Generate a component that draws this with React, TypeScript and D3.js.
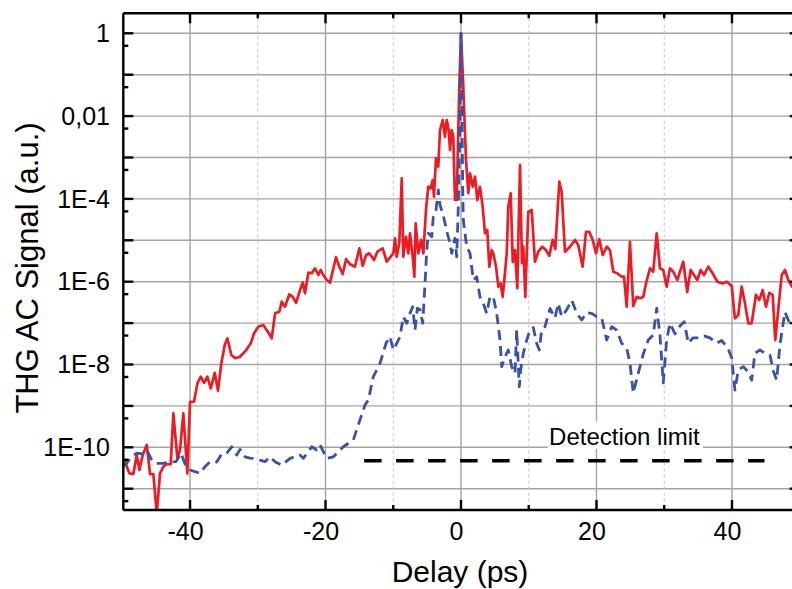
import React from 'react';
import * as d3 from 'd3';

const W = 792;
const H = 589;

// Axis definitions
const xDomain: [number, number] = [-50, 50];
const yDomain: [number, number] = [Math.pow(10, -11.5), Math.pow(10, 0.5)];
const xMajorTicks = [-40, -20, 0, 20, 40];
const xMinorTicks = [-30, -10, 10, 30];
const yDecadeTicks = [1, 1e-1, 1e-2, 1e-3, 1e-4, 1e-5, 1e-6, 1e-7, 1e-8, 1e-9, 1e-10, 1e-11];
const yMinorTicks = [0.5, 5e-2, 5e-3, 5e-4, 5e-5, 5e-6, 5e-7, 5e-8, 5e-9, 5e-10, 5e-11, 5e-12];
const yLabelValues = [1, 1e-2, 1e-4, 1e-6, 1e-8, 1e-10];
const yLabelTexts = ['1', '0,01', '1E-4', '1E-6', '1E-8', '1E-10'];
const xLabelTexts = ['-40', '-20', '0', '20', '40'];

// Detection limit
const detectionLevel = 4.74e-11;
const detectionStart = -14.3;
const detectionEnd = 44.8;
const detectionLabel = 'Detection limit';
const detectionLabelX = 13.0;

// Red (solid) series: [delay ps, signal]
const redSeries: [number, number][] = [
  [-49.85, 4.1e-11], [-49.6, 4.5e-11], [-48.96, 2.35e-11], [-48.37, 2.26e-11], [-47.87, 6.5e-11],
  [-47.48, 2.83e-11], [-46.98, 6.5e-11], [-46.39, 1.14e-10], [-45.9, 2.26e-11], [-45.42, 2.26e-11],
  [-44.91, 2.5e-12], [-44.43, 2.35e-11], [-43.94, 3.4e-11], [-43.44, 3.9e-11], [-42.85, 3.9e-11],
  [-42.46, 6.6e-10], [-41.87, 5.4e-11], [-41.48, 8.6e-11], [-40.99, 6.6e-10], [-40.4, 2.35e-11],
  [-40.0, 1.26e-9], [-39.41, 1.26e-9], [-38.92, 3.5e-9], [-38.42, 5.1e-9], [-37.93, 3.6e-9],
  [-37.45, 5.1e-9], [-36.94, 2.66e-9], [-36.35, 6.3e-9], [-35.87, 2.33e-9], [-35.38, 1.07e-8],
  [-34.88, 2.96e-8], [-34.49, 4.3e-8], [-33.9, 1.7e-8], [-33.31, 1.41e-8], [-32.62, 1.54e-8],
  [-32.13, 1.87e-8], [-31.63, 2.33e-8], [-31.04, 3.25e-8], [-30.55, 5.7e-8], [-29.92, 8.2e-8],
  [-29.18, 9.0e-8], [-28.68, 6.8e-8], [-27.94, 4.3e-8], [-27.45, 1.72e-7], [-26.82, 1.88e-7],
  [-26.46, 3.3e-7], [-25.98, 2.49e-7], [-25.34, 4.96e-7], [-24.84, 4.3e-7], [-24.35, 3.1e-7],
  [-23.76, 6.3e-7], [-23.36, 9.5e-7], [-23.03, 5.25e-7], [-22.54, 1.65e-6], [-22.04, 1.6e-6],
  [-21.55, 2.1e-6], [-21.06, 1.45e-6], [-20.71, 1.92e-6], [-20.32, 1.45e-6], [-19.82, 1.1e-6],
  [-19.34, 9.5e-7], [-18.45, 3.9e-6], [-17.96, 2.3e-6], [-17.46, 1.53e-6], [-16.97, 3.5e-6],
  [-16.38, 2.63e-6], [-15.65, 2.3e-6], [-15.01, 6.4e-6], [-14.51, 2.4e-6], [-14.02, 4.4e-6],
  [-13.54, 4.85e-6], [-12.84, 3.35e-6], [-12.35, 5.3e-6], [-11.56, 6.4e-6], [-10.97, 3.04e-6],
  [-10.38, 4.0e-6], [-9.99, 4.85e-6], [-9.74, 1.12e-5], [-9.49, 4.0e-6], [-9.11, 8.5e-6],
  [-8.75, 3.15e-4], [-8.52, 4.0e-6], [-8.12, 1.22e-5], [-7.78, 4.85e-6], [-7.53, 1.48e-5],
  [-7.13, 4.0e-6], [-6.89, 1.32e-6], [-6.69, 2.58e-5], [-6.3, 4.85e-6], [-5.9, 1.02e-5],
  [-5.56, 4.85e-6], [-5.17, 5.4e-5], [-4.83, 1.97e-4], [-4.47, 1.8e-4], [-4.18, 2.86e-4],
  [-3.99, 1.13e-4], [-3.69, 9.6e-4], [-3.35, 6.0e-4], [-3.1, 4.6e-3], [-2.7, 8.05e-3],
  [-2.36, 3.18e-3], [-2.11, 8.05e-3], [-1.82, 4.6e-3], [-1.62, 1.52e-3], [-1.37, 4.6e-3],
  [-1.14, 3.18e-3], [-0.89, 9.4e-5], [-0.63, 9.4e-5], [-0.25, 5.1e-2], [0, 1],
  [0.34, 5.1e-2], [0.74, 8.7e-4], [1.08, 1.37e-4], [1.33, 4.15e-4], [1.73, 1.97e-4],
  [2.07, 3.44e-4], [2.41, 9.4e-5], [2.8, 1.97e-4], [3.2, 6.5e-5], [3.54, 1.48e-5],
  [3.88, 1.77e-5], [4.18, 2.3e-6], [4.53, 5.8e-6], [4.77, 4.85e-6], [5.17, 2.3e-6],
  [5.51, 7.6e-7], [5.86, 9.1e-7], [6.15, 4.3e-7], [6.49, 1.6e-6], [6.75, 4.85e-6],
  [6.98, 6.5e-5], [7.34, 1.37e-4], [7.64, 3.0e-6], [7.97, 5.8e-6], [8.31, 7.0e-7],
  [8.71, 6.6e-4], [9.0, 2.8e-6], [9.2, 7.0e-6], [9.49, 4.3e-7], [9.93, 4.9e-5],
  [10.44, 5.4e-5], [10.92, 3.04e-6], [11.41, 5.3e-6], [12.0, 7.0e-6], [12.55, 5.8e-6],
  [13.03, 4.2e-6], [13.53, 1.02e-5], [13.92, 6.1e-6], [14.51, 2.6e-4], [14.86, 1.49e-4],
  [15.35, 5.3e-6], [16.09, 7.0e-6], [16.83, 1.02e-5], [17.31, 7.7e-6], [17.96, 2.3e-6],
  [18.45, 1.61e-5], [18.94, 1.61e-5], [19.44, 1.02e-5], [19.93, 4.85e-6], [20.41, 1.06e-5],
  [20.92, 4.4e-6], [21.51, 7.0e-6], [21.99, 5.8e-6], [22.48, 1.74e-6], [23.07, 1.6e-6],
  [23.72, 1.32e-6], [24.06, 1.32e-6], [24.46, 2.49e-7], [24.94, 9.2e-6], [25.43, 2.6e-7],
  [25.93, 4.3e-7], [26.42, 4.0e-7], [26.91, 4.3e-7], [27.31, 9.1e-7], [27.9, 2.1e-6],
  [28.38, 1.74e-6], [28.89, 1.48e-5], [29.37, 2.1e-6], [29.86, 1.92e-6], [30.36, 7.6e-7],
  [30.85, 2.1e-6], [31.34, 1.74e-6], [31.93, 1.1e-6], [32.81, 3.04e-6], [33.4, 5.7e-7],
  [33.9, 1.92e-6], [34.39, 1.45e-6], [34.88, 1.1e-6], [35.38, 1.92e-6], [35.87, 1.45e-6],
  [36.5, 2.3e-6], [37.15, 1.6e-6], [37.83, 1.0e-6], [38.63, 9.1e-7], [39.22, 1.0e-6],
  [39.96, 7.9e-7], [40.44, 1.3e-7], [40.93, 1.57e-7], [41.43, 7.6e-7], [41.92, 3.0e-7],
  [42.41, 9.9e-8], [42.91, 9.9e-8], [43.54, 4.8e-7], [44.03, 3.6e-7], [44.53, 6.3e-7],
  [45.02, 2.49e-7], [45.51, 5.4e-7], [46.01, 4.8e-7], [46.39, 3.9e-8], [46.83, 2.07e-7],
  [47.34, 1.45e-6], [47.82, 1.92e-6], [48.31, 1.1e-6], [48.86, 7.6e-7], [50, 6e-7],
];

// Blue (dashed) series: [delay ps, signal]
const blueSeries: [number, number][] = [
  [-49.85, 3.4e-11], [-49.34, 4.1e-11], [-48.86, 5.5e-11], [-47.87, 7.2e-11], [-47.13, 6.9e-11],
  [-46.39, 8.6e-11], [-45.65, 4.9e-11], [-44.91, 4.1e-11], [-43.94, 4.1e-11], [-42.95, 4.4e-11],
  [-42.07, 4.5e-11], [-41.33, 7.2e-11], [-40.59, 3.4e-11], [-40.0, 2.83e-11], [-38.52, 2.35e-11],
  [-37.79, 3.4e-11], [-37.05, 4.5e-11], [-36.06, 4.4e-11], [-35.32, 6.9e-11], [-34.58, 7.2e-11],
  [-33.84, 1.03e-10], [-33.11, 6.5e-11], [-32.62, 8.9e-11], [-31.88, 5.9e-11], [-31.14, 5.5e-11],
  [-30.41, 5.4e-11], [-29.67, 4.9e-11], [-28.93, 4.5e-11], [-28.19, 5.9e-11], [-27.45, 4.5e-11],
  [-26.46, 3.7e-11], [-25.24, 5.4e-11], [-23.76, 6.5e-11], [-23.28, 5.4e-11], [-22.04, 1.03e-10],
  [-21.3, 8.6e-11], [-20.81, 1.14e-10], [-19.82, 5.4e-11], [-18.85, 5.9e-11], [-17.37, 1.03e-10],
  [-15.9, 1.5e-10], [-14.91, 4.6e-10], [-14.17, 1.05e-9], [-13.68, 1.39e-9], [-12.94, 5.1e-9],
  [-11.96, 1.07e-8], [-11.07, 3.25e-8], [-10.48, 4.7e-8], [-9.99, 2.24e-8], [-9.49, 3.25e-8],
  [-9.0, 4.7e-8], [-8.52, 1.43e-7], [-8.01, 9.9e-8], [-7.53, 1.72e-7], [-7.13, 2.49e-7],
  [-6.79, 6.8e-8], [-6.45, 2.28e-7], [-6.05, 2.1e-7], [-5.65, 9.9e-8], [-5.31, 9.1e-7],
  [-5.06, 5.8e-6], [-4.83, 1.48e-5], [-4.32, 1.22e-5], [-4.09, 3.7e-5], [-3.69, 5.4e-5],
  [-3.35, 1.64e-4], [-3.1, 7.1e-5], [-2.7, 4.5e-5], [-2.36, 2.58e-5], [-2.02, 1.48e-5],
  [-1.62, 8.5e-6], [-1.37, 4.85e-6], [-1.14, 7.0e-6], [-0.89, 1.12e-5], [-0.63, 4.0e-6],
  [-0.4, 6.5e-5], [-0.15, 8.05e-3], [0, 1], [0.15, 8.05e-3], [0.25, 1.97e-4],
  [0.34, 3.1e-5], [0.59, 1.48e-5], [0.84, 7.0e-6], [1.33, 4.85e-6], [1.82, 1.1e-6],
  [2.32, 1.32e-6], [2.8, 4.3e-7], [3.29, 3.0e-7], [3.79, 1.72e-7], [4.28, 4.3e-7],
  [4.77, 4.3e-7], [5.27, 1.72e-7], [5.76, 3.9e-8], [6.01, 8.9e-9], [6.49, 1.54e-8],
  [6.98, 2.24e-8], [7.48, 8.9e-9], [7.97, 6.1e-9], [8.22, 6.8e-8], [8.61, 2.9e-9],
  [8.81, 7.4e-9], [9.2, 1.87e-8], [9.7, 3.9e-8], [10.18, 6.8e-8], [10.67, 7.8e-8],
  [11.17, 3.25e-8], [11.56, 2.24e-8], [11.91, 6.8e-8], [12.4, 8.2e-8], [13.14, 2.25e-7],
  [13.87, 1.33e-7], [14.36, 3.0e-7], [14.86, 1.43e-7], [15.6, 2.1e-7], [16.34, 3.6e-7],
  [17.08, 1.72e-7], [17.82, 1.19e-7], [18.55, 1.8e-7], [19.29, 1.72e-7], [20.03, 1.43e-7],
  [20.77, 1.33e-7], [21.51, 3.9e-8], [22.25, 8.2e-8], [22.98, 6.8e-8], [23.72, 3.25e-8],
  [24.46, 2.5e-8], [24.94, 1.07e-8], [25.43, 2.05e-9], [26.17, 6.2e-9], [26.91, 1.8e-8],
  [27.65, 3.9e-8], [28.38, 5.2e-8], [28.89, 2.3e-7], [29.37, 5.2e-8], [29.86, 3.6e-9],
  [30.36, 3.9e-8], [30.85, 9.9e-8], [31.59, 5.5e-8], [32.32, 8.5e-8], [32.96, 1.08e-7],
  [33.55, 3.25e-8], [34.24, 4.4e-8], [35.03, 4.4e-8], [35.87, 4.9e-8], [36.75, 4.4e-8],
  [37.74, 3.25e-8], [38.48, 3.8e-8], [39.41, 2.5e-8], [39.96, 1.44e-8], [40.44, 2.4e-9],
  [40.93, 7.4e-9], [41.67, 8.9e-9], [42.41, 6.6e-9], [42.91, 4.2e-9], [43.39, 1.87e-8],
  [44.13, 2.24e-8], [44.87, 1.87e-8], [45.61, 1.7e-8], [46.1, 7.0e-9], [46.6, 4.2e-9],
  [47.08, 3.0e-8], [47.82, 1.85e-7], [48.56, 9.5e-8], [50, 6.8e-8],
];

const FONT = "'Liberation Sans', Arial, Helvetica, sans-serif";

export default function App() {
  const left = 122.3;
  const right = 799.7;
  const top = 12.6;
  const bottom = 509.4;

  const x = d3.scaleLinear().domain(xDomain).range([left, right]);
  const y = d3.scaleLog().domain(yDomain).range([bottom, top]);

  const line = d3
    .line<[number, number]>()
    .x((d) => x(d[0]))
    .y((d) => y(d[1]));

  const gridColor = '#a3a3a3';
  const axisW = 2.4;
  const axisLeft = 123.3;
  const axisTop = 13.3;
  const axisBottom = 510;

  const detY = y(detectionLevel);

  return (
    <svg
      width={W}
      height={H}
      viewBox={`0 0 ${W} ${H}`}
      style={{ position: 'absolute', left: 0, top: 0, background: '#fff' }}
      fontFamily={FONT}
    >
      <defs>
        <clipPath id="plotClip">
          <rect x={left} y={top} width={right - left} height={bottom - top} />
        </clipPath>
      </defs>
      <rect x={0} y={0} width={W} height={H} fill="#fff" />

      {/* horizontal grid at each decade */}
      {yDecadeTicks.map((v, i) => (
        <line key={'hg' + i} x1={left} x2={right} y1={y(v)} y2={y(v)} stroke={gridColor} strokeWidth={1.4} />
      ))}
      {/* vertical grid */}
      {xMajorTicks.map((v, i) => (
        <line key={'vg' + i} x1={x(v)} x2={x(v)} y1={top} y2={bottom} stroke={gridColor} strokeWidth={1.4} />
      ))}
      {xMinorTicks.map((v, i) => (
        <line
          key={'vgm' + i}
          x1={x(v)}
          x2={x(v)}
          y1={top}
          y2={bottom}
          stroke="#c4c4c4"
          strokeWidth={1}
          strokeDasharray="3,3"
        />
      ))}

      {/* detection label background */}
      <rect x={548} y={detY - 39.5} width={155} height={27.5} fill="#fff" />
      <text x={x(detectionLabelX)} y={detY - 15.7} fontSize={24} fill="#000">
        {detectionLabel}
      </text>

      {/* detection limit line */}
      <line
        x1={x(detectionStart)}
        x2={x(detectionEnd)}
        y1={detY}
        y2={detY}
        stroke="#000"
        strokeWidth={3.6}
        strokeDasharray="17.5,14.5"
      />

      <g clipPath="url(#plotClip)">
        <path d={line(redSeries) || ''} fill="none" stroke="#ed1c24" strokeWidth={2.7} strokeLinejoin="round" />
        <path
          d={line(blueSeries) || ''}
          fill="none"
          stroke="#3853a4"
          strokeWidth={2.8}
          strokeDasharray="10,6"
          strokeLinejoin="round"
        />
      </g>

      {/* axes frame */}
      <line x1={axisLeft} x2={axisLeft} y1={axisTop} y2={axisBottom} stroke="#000" strokeWidth={axisW} />
      <line x1={axisLeft} x2={right} y1={axisTop} y2={axisTop} stroke="#000" strokeWidth={axisW} />
      <line x1={axisLeft} x2={right} y1={axisBottom} y2={axisBottom} stroke="#000" strokeWidth={axisW} />
      <line x1={right} x2={right} y1={axisTop} y2={axisBottom} stroke="#000" strokeWidth={axisW} />

      {/* left/right ticks */}
      {yDecadeTicks.map((v, i) => (
        <g key={'yt' + i}>
          <line x1={axisLeft} x2={axisLeft + 10} y1={y(v)} y2={y(v)} stroke="#000" strokeWidth={axisW} />
          <line x1={right - 10} x2={right} y1={y(v)} y2={y(v)} stroke="#000" strokeWidth={axisW} />
        </g>
      ))}
      {yMinorTicks
        .filter((v) => y(v) > top + 1 && y(v) < bottom - 1)
        .map((v, i) => (
          <g key={'ytm' + i}>
            <line x1={axisLeft} x2={axisLeft + 5} y1={y(v)} y2={y(v)} stroke="#000" strokeWidth={axisW} />
            <line x1={right - 5} x2={right} y1={y(v)} y2={y(v)} stroke="#000" strokeWidth={axisW} />
          </g>
        ))}
      {/* top/bottom ticks */}
      {xMajorTicks.map((v, i) => (
        <g key={'xt' + i}>
          <line x1={x(v)} x2={x(v)} y1={axisTop} y2={axisTop + 10} stroke="#000" strokeWidth={axisW} />
          <line x1={x(v)} x2={x(v)} y1={axisBottom - 10} y2={axisBottom} stroke="#000" strokeWidth={axisW} />
        </g>
      ))}
      {xMinorTicks.map((v, i) => (
        <g key={'xtm' + i}>
          <line x1={x(v)} x2={x(v)} y1={axisTop} y2={axisTop + 5} stroke="#000" strokeWidth={axisW} />
          <line x1={x(v)} x2={x(v)} y1={axisBottom - 5} y2={axisBottom} stroke="#000" strokeWidth={axisW} />
        </g>
      ))}

      {/* y labels */}
      {yLabelValues.map((v, i) => (
        <text key={'yl' + i} x={110} y={y(v)} dy="0.35em" textAnchor="end" fontSize={25} fill="#000">
          {yLabelTexts[i]}
        </text>
      ))}
      {/* x labels */}
      {xMajorTicks.map((v, i) => (
        <text key={'xl' + i} x={x(v) - 4.5} y={540} textAnchor="middle" fontSize={25} fill="#000">
          {xLabelTexts[i]}
        </text>
      ))}

      {/* axis titles */}
      <text x={460} y={581.5} textAnchor="middle" fontSize={30} fill="#000">
        Delay (ps)
      </text>
      <text transform="translate(38,268) rotate(-90)" textAnchor="middle" fontSize={31} fill="#000">
        THG AC Signal (a.u.)
      </text>
    </svg>
  );
}
